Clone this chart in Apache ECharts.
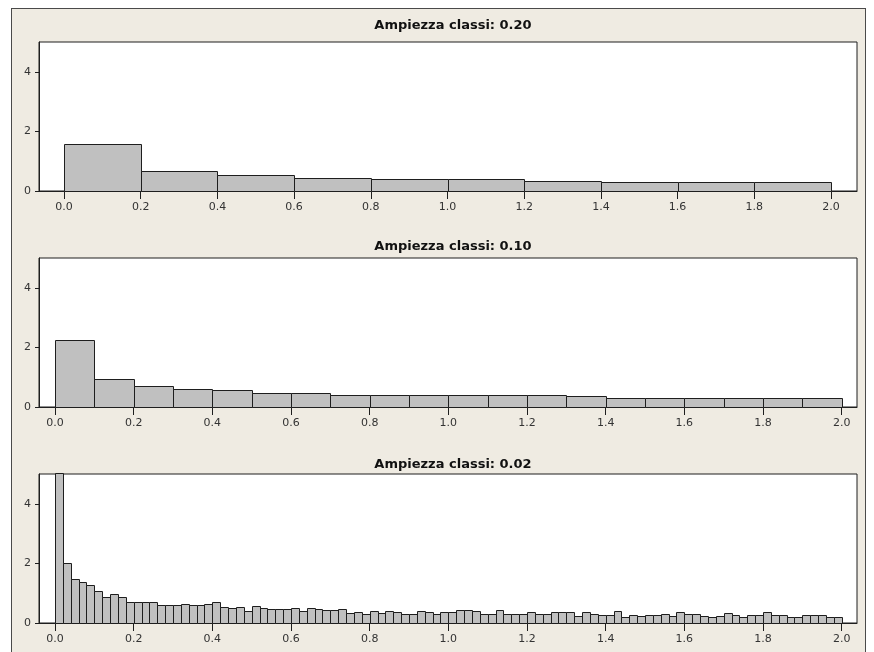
<!DOCTYPE html>
<html>
<head>
<meta charset="utf-8">
<script src="https://cdn.jsdelivr.net/npm/echarts@6/dist/echarts.min.js"></script>
<style>
	html, body { margin: 0; padding: 0; background: #ffffff; }
	#frame {
		position: absolute; left: 11px; top: 8px; width: 855px; height: 660px;
		background: #EFEBE2; border: 1px solid #4a4a4a; box-sizing: border-box;
	}
	#chart { position: absolute; left: 0; top: 0; width: 874px; height: 652px; }
</style>
</head>
<body>
<div id="frame"></div>
<div id="chart"></div>
<script>
	// class widths and densities for each panel
	var titles = ['Ampiezza classi: 0.20', 'Ampiezza classi: 0.10', 'Ampiezza classi: 0.02'];
	var widths = [0.2, 0.1, 0.02];
	var xTicks = [0, 0.2, 0.4, 0.6, 0.8, 1.0, 1.2, 1.4, 1.6, 1.8, 2.0];
	var yTicks = [0, 2, 4];

	var dens20 = [1.57, 0.66, 0.53, 0.44, 0.39, 0.39, 0.35, 0.30, 0.30, 0.30];

	var dens10 = [2.24, 0.94, 0.72, 0.62, 0.57, 0.48, 0.48, 0.39, 0.39, 0.39,
		0.39, 0.39, 0.39, 0.36, 0.29, 0.29, 0.29, 0.29, 0.29, 0.29];

	var dens02 = [7.0, 2.0, 1.46, 1.37, 1.27, 1.09, 0.86, 0.97, 0.86, 0.72,
		0.72, 0.72, 0.72, 0.59, 0.59, 0.59, 0.65, 0.59, 0.59, 0.65,
		0.69, 0.55, 0.50, 0.55, 0.41, 0.56, 0.50, 0.46, 0.46, 0.46,
		0.50, 0.40, 0.50, 0.47, 0.43, 0.43, 0.47, 0.32, 0.37, 0.31,
		0.40, 0.35, 0.41, 0.36, 0.29, 0.30, 0.41, 0.36, 0.30, 0.36,
		0.36, 0.43, 0.43, 0.41, 0.30, 0.30, 0.43, 0.30, 0.30, 0.30,
		0.36, 0.29, 0.29, 0.36, 0.36, 0.36, 0.22, 0.36, 0.31, 0.26,
		0.26, 0.41, 0.21, 0.27, 0.22, 0.27, 0.27, 0.31, 0.22, 0.36,
		0.30, 0.30, 0.25, 0.21, 0.23, 0.32, 0.27, 0.21, 0.27, 0.27,
		0.37, 0.27, 0.27, 0.21, 0.21, 0.27, 0.27, 0.27, 0.21, 0.21];

	var allDens = [dens20, dens10, dens02];

	var panels = [
		{top: 42, xMin: -0.0652, xMax: 2.0678, titleTop: 14},
		{top: 258, xMin: -0.0407, xMax: 2.039, titleTop: 235},
		{top: 474, xMin: -0.0407, xMax: 2.039, titleTop: 453}
	];

	var font = 'DejaVu Sans';

	function renderItem(params, api) {
		var x0 = api.value(0), x1 = api.value(1), h = api.value(2);
		var p0 = api.coord([x0, h]);
		var p1 = api.coord([x1, 0]);
		var rect = {
			x: Math.round(p0[0]) + 0.5,
			y: Math.round(p0[1]) + 0.5,
			width: Math.round(p1[0]) - Math.round(p0[0]),
			height: Math.round(p1[1]) - Math.round(p0[1])
		};
		var cs = params.coordSys;
		var shape = echarts.graphic.clipRectByRect(rect, {x: cs.x, y: cs.y - 0.5, width: cs.width, height: cs.height + 1});
		if (!shape) return null;
		return {
			type: 'rect',
			shape: shape,
			style: {fill: '#C0C0C0', stroke: '#1e1e1e', lineWidth: 1}
		};
	}

	var grids = [], xAxes = [], yAxes = [], series = [], titleList = [];

	panels.forEach(function (p, i) {
		grids.push({
			left: 39, right: 17, top: p.top, height: 149,
			show: true, backgroundColor: '#ffffff', borderColor: '#1e1e1e', borderWidth: 1
		});
		xAxes.push({
			type: 'value', gridIndex: i, min: p.xMin, max: p.xMax,
			axisLine: {show: true, onZero: false, lineStyle: {color: '#1e1e1e', width: 1}},
			axisTick: {show: true, length: 8, customValues: xTicks, lineStyle: {color: '#1e1e1e'}},
			axisLabel: {
				customValues: xTicks, margin: 11, color: '#333', fontFamily: font, fontSize: 11,
				formatter: function (v) { return v.toFixed(1); }
			},
			splitLine: {show: false}
		});
		yAxes.push({
			type: 'value', gridIndex: i, min: 0, max: 5,
			axisLine: {show: true, onZero: false, lineStyle: {color: '#1e1e1e', width: 1}},
			axisTick: {show: true, length: 4, customValues: yTicks, lineStyle: {color: '#1e1e1e'}},
			axisLabel: {customValues: yTicks, margin: 8, color: '#333', fontFamily: font, fontSize: 11},
			splitLine: {show: false}
		});
		var w = widths[i];
		var data = allDens[i].map(function (d, k) {
			return [k * w, (k + 1) * w, d];
		});
		series.push({
			type: 'custom', xAxisIndex: i, yAxisIndex: i,
			renderItem: renderItem, data: data, silent: true,
			encode: {x: [0, 1], y: 2}
		});
		titleList.push({
			text: titles[i], left: 448, top: p.titleTop, textAlign: 'center',
			textStyle: {fontFamily: font, fontSize: 13, fontWeight: 'bold', color: '#111'}
		});
	});

	var chart = echarts.init(document.getElementById('chart'), null, {renderer: 'canvas'});
	chart.setOption({
		animation: false,
		backgroundColor: 'transparent',
		title: titleList,
		grid: grids,
		xAxis: xAxes,
		yAxis: yAxes,
		series: series
	});
</script>
</body>
</html>
